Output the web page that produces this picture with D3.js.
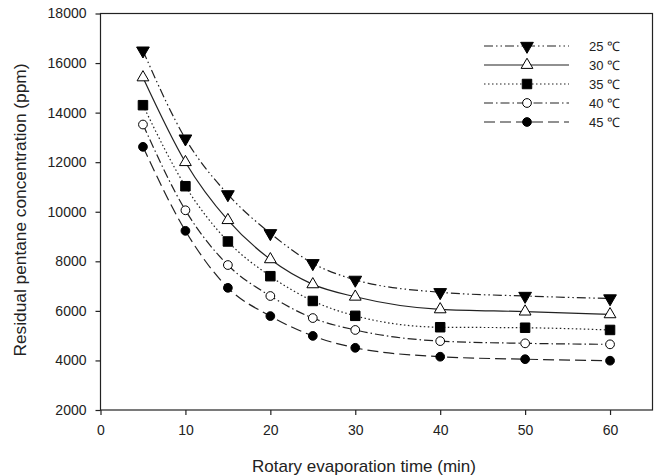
<!DOCTYPE html>
<html>
<head>
<meta charset="utf-8">
<script src="https://cdn.jsdelivr.net/npm/d3@7"></script>
<style>
  body { margin: 0; background: #fff; }
  text { font-family: "Liberation Sans", Arial, sans-serif; fill: #222; }
</style>
</head>
<body>
<div id="chart"></div>
<script>
const times = [5, 10, 15, 20, 25, 30, 40, 50, 60];
const temps = ["25 ℃", "30 ℃", "35 ℃", "40 ℃", "45 ℃"];
const c25 = [16500, 12950, 10700, 9130, 7920, 7250, 6750, 6600, 6500];
const c30 = [15420, 12000, 9660, 8080, 7070, 6570, 6060, 5970, 5860];
const c35 = [14300, 11030, 8800, 7400, 6400, 5800, 5340, 5320, 5230];
const c40 = [13520, 10060, 7850, 6600, 5710, 5230, 4780, 4690, 4650];
const c45 = [12620, 9230, 6930, 5790, 4990, 4510, 4150, 4050, 3990];
const yTicks = [2000, 4000, 6000, 8000, 10000, 12000, 14000, 16000, 18000];
const xTicks = [0, 10, 20, 30, 40, 50, 60];

const series = [c25, c30, c35, c40, c45];
// per-series look
const dashes = ["9,3,1.5,3,1.5,3", null, "1.5,2.5", "9,3,1.5,3", "11,5"];
const shapes = [d3.symbolTriangle, d3.symbolTriangle, d3.symbolSquare, d3.symbolCircle, d3.symbolCircle];
const fills = ["#000", "#fff", "#000", "#fff", "#000"];
const flip = [true, false, false, false, false];
const sizes = [70, 60, 90, 60, 60];

const margin = {top: 13.5, right: 7.5, bottom: 66, left: 100.5},
    width = 660 - margin.left - margin.right,
    height = 476 - margin.top - margin.bottom;

const svg = d3.select("#chart").append("svg")
    .attr("width", 660)
    .attr("height", 476)
    .append("g")
    .attr("transform", "translate(" + margin.left + "," + margin.top + ")");

const x = d3.scaleLinear().domain([0, 65]).range([0, width]);
const y = d3.scaleLinear().domain([2000, 18000]).range([height, 0]);

// frame
svg.append("rect")
    .attr("width", width).attr("height", height)
    .attr("fill", "none").attr("stroke", "#222").attr("stroke-width", 1.2);

const xa = svg.append("g")
    .attr("transform", "translate(0," + height + ")")
    .call(d3.axisBottom(x).tickValues(xTicks).tickSize(5).tickPadding(10));
xa.select(".domain").remove();
xa.selectAll("text").attr("font-size", 14);

const ya = svg.append("g")
    .call(d3.axisLeft(y).tickValues(yTicks).tickFormat(d3.format("d")).tickSize(5).tickPadding(9));
ya.select(".domain").remove();
ya.selectAll("text").attr("font-size", 14);
svg.selectAll(".tick line").attr("stroke", "#222").attr("stroke-width", 1.2);

const line = d3.line()
    .x((d, i) => x(times[i]))
    .y(d => y(d))
    .curve(d3.curveMonotoneX);

series.forEach(function (s, k) {
    svg.append("path")
        .attr("d", line(s))
        .attr("fill", "none")
        .attr("stroke", "#222")
        .attr("stroke-width", 1.2)
        .attr("stroke-dasharray", dashes[k]);
    svg.selectAll(".m" + k)
        .data(s)
        .enter().append("path")
        .attr("d", d3.symbol().type(shapes[k]).size(sizes[k]))
        .attr("transform", (d, i) => "translate(" + x(times[i]) + "," + y(d) + ")" + (flip[k] ? " rotate(180)" : ""))
        .attr("fill", fills[k])
        .attr("stroke", "#000")
        .attr("stroke-width", 1);
});

// legend
const leg = svg.append("g").attr("transform", "translate(" + (484 - margin.left) + "," + (46 - margin.top) + ")");
temps.forEach(function (t, k) {
    const g = leg.append("g").attr("transform", "translate(0," + (k * 19) + ")");
    g.append("line").attr("x1", 0).attr("x2", 85)
        .attr("stroke", "#222").attr("stroke-width", 1.2)
        .attr("stroke-dasharray", dashes[k]);
    g.append("path")
        .attr("d", d3.symbol().type(shapes[k]).size(sizes[k]))
        .attr("transform", "translate(43,0)" + (flip[k] ? " rotate(180)" : ""))
        .attr("fill", fills[k]).attr("stroke", "#000");
    g.append("text").attr("x", 105).attr("dy", "0.35em")
        .attr("font-size", 13).text(t);
});

svg.append("text")
    .attr("x", 364 - margin.left).attr("y", 472 - margin.top)
    .attr("text-anchor", "middle").attr("font-size", 17)
    .text("Rotary evaporation time (min)");

svg.append("text")
    .attr("transform", "translate(" + (26 - margin.left) + "," + (210 - margin.top) + ") rotate(-90)")
    .attr("text-anchor", "middle").attr("font-size", 17.3)
    .text("Residual pentane concentration (ppm)");
</script>
</body>
</html>
